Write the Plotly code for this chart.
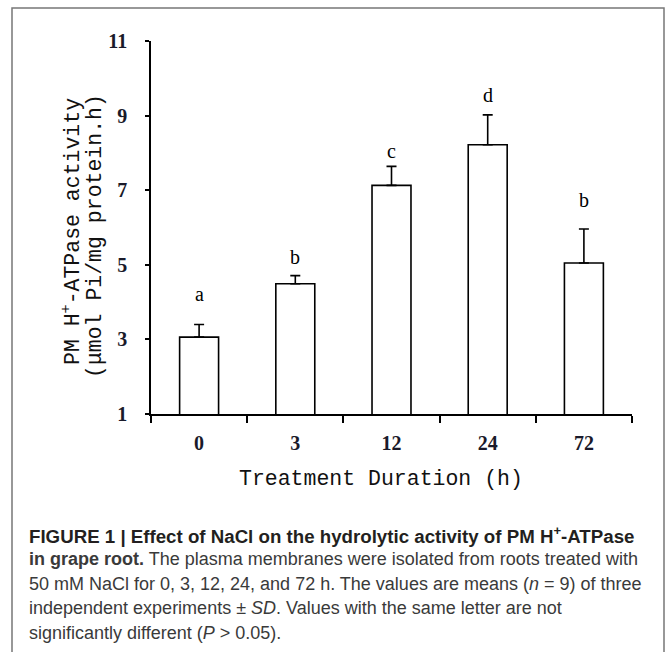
import plotly.graph_objects as go

# ---- data ----
categories = ["0", "3", "12", "24", "72"]
means = [3.06, 4.49, 7.13, 8.22, 5.05]
sd = [0.34, 0.22, 0.51, 0.80, 0.91]
letters = ["a", "b", "c", "d", "b"]
letter_y = [4.23, 5.20, 8.05, 9.54, 6.73]
y_ticks = [1, 3, 5, 7, 9, 11]

x_title = "Treatment Duration (h)"
y_title_1 = "PM H<sup>+</sup>-ATPase activity"
y_title_2 = "(μmol Pi/mg protein.h)"
caption_lines = [
    "<b>FIGURE 1 | Effect of NaCl on the hydrolytic activity of PM H<sup>+</sup>-ATPase</b>",
    "<b>in grape root.</b> The plasma membranes were isolated from roots treated with",
    "50 mM NaCl for 0, 3, 12, 24, and 72 h. The values are means (<i>n</i> = 9) of three",
    "independent experiments ± <i>SD</i>. Values with the same letter are not",
    "significantly different (<i>P</i> > 0.05).",
]

# ---- layout geometry (pixels) ----
W, H = 668, 652
L, R, T, B = 151, 36, 41, 238
PW = W - L - R
PH = H - T - B


def px_x(X):
    return (X - L) / PW


def px_y(Y):
    return (H - B - Y) / PH


fig = go.Figure()
fig.add_trace(go.Bar(
    x=categories, y=means, width=0.405,
    marker=dict(color="white", line=dict(color="black", width=1.6)),
    error_y=dict(type="data", array=sd, arrayminus=[0] * len(sd), symmetric=False,
                 color="black", thickness=1.6, width=5),
    hoverinfo="skip",
))

annotations = []
for i, (lt, ly) in enumerate(zip(letters, letter_y)):
    annotations.append(dict(x=i, y=ly, text=lt, showarrow=False, xref="x", yref="y",
                            font=dict(family="Liberation Serif", size=20, color="black"),
                            yanchor="middle"))

annotations.append(dict(x=px_x(381), y=px_y(479), xref="paper", yref="paper", text=x_title,
                        showarrow=False, xanchor="center", yanchor="middle",
                        font=dict(family="Liberation Mono", size=21.5, color="#111")))
annotations.append(dict(x=px_x(71), y=px_y(232), xref="paper", yref="paper", text=y_title_1,
                        showarrow=False, textangle=-90, xanchor="center", yanchor="middle",
                        font=dict(family="Liberation Mono", size=21.5, color="#111")))
annotations.append(dict(x=px_x(95), y=px_y(236), xref="paper", yref="paper", text=y_title_2,
                        showarrow=False, textangle=-90, xanchor="center", yanchor="middle",
                        font=dict(family="Liberation Mono", size=21.5, color="#111")))

cap_y = [535, 559, 584, 608, 633]
for i, (line, cy) in enumerate(zip(caption_lines, cap_y)):
    annotations.append(dict(x=px_x(27), y=px_y(cy), xref="paper", yref="paper", text=line,
                            showarrow=False, xanchor="left", yanchor="middle",
                            font=dict(family="Liberation Sans", size=18.7 if i == 0 else 18,
                                      color="#231f20" if i == 0 else "#3a3a3a")))

fig.update_layout(
    width=W, height=H, autosize=False,
    margin=dict(l=L, r=R, t=T, b=B, pad=0),
    paper_bgcolor="white", plot_bgcolor="white",
    showlegend=False,
    annotations=annotations,
    shapes=[dict(type="rect", xref="paper", yref="paper",
                 x0=px_x(12), x1=px_x(664), y0=px_y(680), y1=px_y(8),
                 line=dict(color="#777", width=1.5), fillcolor="rgba(0,0,0,0)", layer="below")],
    xaxis=dict(type="category", range=[-0.5, 4.5], showline=True, linecolor="black", linewidth=1.6,
               ticks="outside", tickson="boundaries", ticklen=7, tickwidth=1.6, tickcolor="black",
               showgrid=False, zeroline=False, ticklabelstandoff=10,
               tickfont=dict(family="Liberation Serif", size=20, color="#1a1a2a", weight="bold")),
    yaxis=dict(range=[1, 11], tickvals=y_ticks, showline=True, linecolor="black", linewidth=1.6,
               ticks="outside", ticklen=4, tickwidth=1.6, tickcolor="black",
               showgrid=False, zeroline=False, ticklabelstandoff=14,
               tickfont=dict(family="Liberation Serif", size=20, color="#1a1a2a", weight="bold")),
)

fig.write_html("out.html", config={"displayModeBar": False},
               post_script="document.body.style.margin='0';document.body.style.padding='0';")
